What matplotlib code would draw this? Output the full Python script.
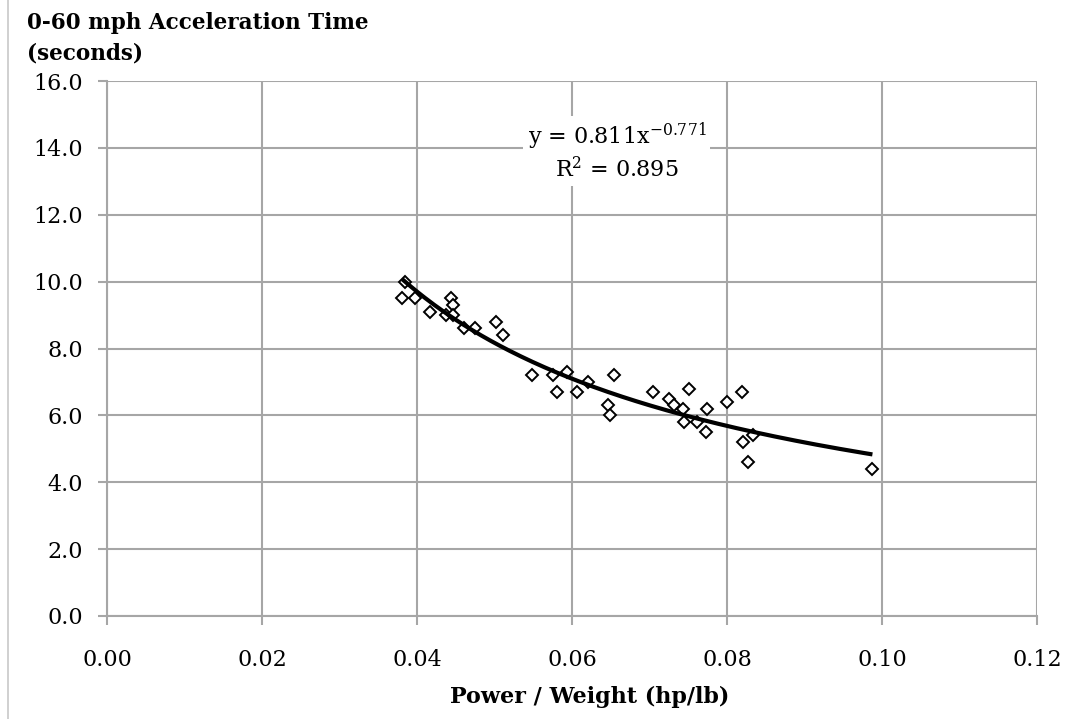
import matplotlib
matplotlib.use("Agg")
import matplotlib.pyplot as plt
import numpy as np

# power / weight (hp/lb) and 0-60 mph time (s)
pw = [0.0380, 0.0385, 0.0397, 0.0417, 0.0438, 0.0444, 0.0446, 0.0446,
      0.0461, 0.0475, 0.0502, 0.0511, 0.0549, 0.0576, 0.0580, 0.0593,
      0.0606, 0.0620, 0.0647, 0.0649, 0.0654, 0.0704, 0.0725, 0.0731,
      0.0743, 0.0745, 0.0751, 0.0761, 0.0773, 0.0774, 0.0800, 0.0819,
      0.0821, 0.0827, 0.0833, 0.0987]
accel = [9.5, 10.0, 9.5, 9.1, 9.0, 9.5, 9.3, 9.0,
         8.6, 8.6, 8.8, 8.4, 7.2, 7.2, 6.7, 7.3,
         6.7, 7.0, 6.3, 6.0, 7.2, 6.7, 6.5, 6.3,
         6.2, 5.8, 6.8, 5.8, 5.5, 6.2, 6.4, 6.7,
         5.2, 4.6, 5.4, 4.4]

# power trendline y = a * x^b
coef_a = 0.811
coef_b = -0.771
r2 = 0.895

xticks = [0.00, 0.02, 0.04, 0.06, 0.08, 0.10, 0.12]
yticks = [0, 2, 4, 6, 8, 10, 12, 14, 16]

plt.rcParams["font.family"] = ["DejaVu Serif"]
plt.rcParams["mathtext.fontset"] = "dejavuserif"
grid_c = "#a6a6a6"

fig = plt.figure(figsize=(10.72, 7.19), dpi=100)
ax = fig.add_axes([107 / 1072, 1 - 616 / 719, 930 / 1072, 535 / 719])

ax.set_xlim(0, 0.12)
ax.set_ylim(0, 16)
ax.set_xticks(xticks)
ax.set_xticklabels([f"{t:.2f}" for t in xticks])
ax.set_yticks(yticks)
ax.set_yticklabels([f"{t:.1f}" for t in yticks])
ax.grid(True, color=grid_c, linewidth=1.5)
ax.set_axisbelow(True)
for s in ["top", "right"]:
    ax.spines[s].set_visible(False)
for s in ["left", "bottom"]:
    ax.spines[s].set_color(grid_c)
    ax.spines[s].set_linewidth(1.5)
ax.tick_params(axis="both", colors=grid_c, length=6.5, width=1.5,
               labelcolor="black", labelsize=16)
ax.tick_params(axis="x", pad=17)
ax.tick_params(axis="y", pad=11)

ax.plot(pw, accel, linestyle="none", marker="D", markersize=6.5,
        markerfacecolor="white", markeredgecolor="black",
        markeredgewidth=1.4, zorder=3)

xs = np.linspace(min(pw) + 0.0003, max(pw) - 0.0002, 200)
ax.plot(xs, coef_a * xs ** coef_b, color="black", linewidth=3, zorder=4)

ax.text(0.0658, 14.35, f"y = {coef_a}x$^{{{coef_b}}}$", ha="center",
        va="center", fontsize=16,
        bbox=dict(facecolor="white", edgecolor="none", pad=3))
ax.text(0.0658, 13.35, f"R$^2$ = {r2}", ha="center", va="center",
        fontsize=16,
        bbox=dict(facecolor="white", edgecolor="none", pad=3))

fig.text(27 / 1072, 1 - 38 / 719, "0-60 mph Acceleration Time\n(seconds)",
         ha="left", va="center", fontsize=15.5, fontweight="bold",
         linespacing=1.5)
fig.text(590 / 1072, 1 - 697 / 719, "Power / Weight (hp/lb)", ha="center",
         va="center", fontsize=16, fontweight="bold")

fig.add_artist(plt.Line2D([8 / 1072, 8 / 1072], [0, 1], color="#c8c8c8",
                          linewidth=1.2))

fig.savefig("out.png", dpi=100)
